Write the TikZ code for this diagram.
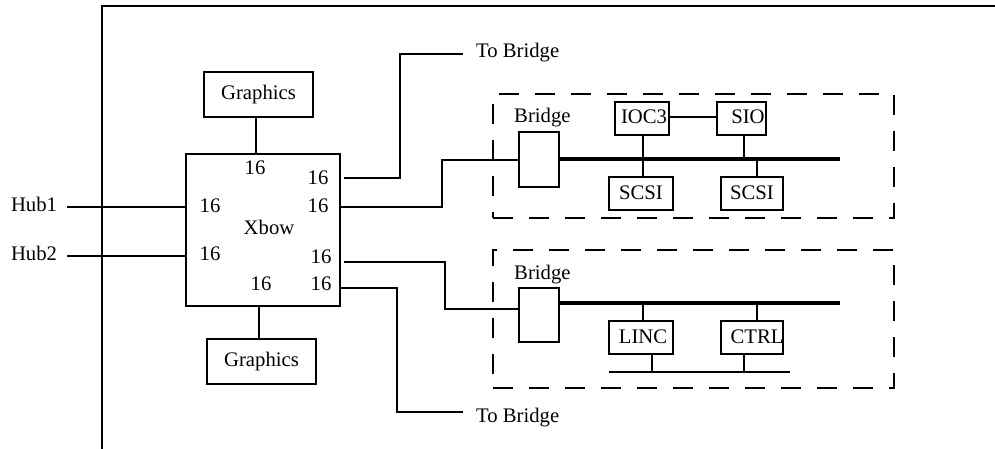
\documentclass[tikz,border=0pt]{standalone}
\usepackage{fontspec}
\setmainfont{Liberation Serif}
\begin{document}
\begin{tikzpicture}[x=1pt,y=-1pt,
  every node/.style={font=\fontsize{20.7}{24}\selectfont},
  ln/.style={line width=1.1pt},
  box/.style={draw, line width=1.1pt, inner sep=0pt},
  txt/.style={inner sep=0pt},
  grp/.style={draw, line width=1.1pt, dash pattern=on 20pt off 16pt, inner sep=0pt},
  bus/.style={line width=4pt}]
\useasboundingbox (0,0) rectangle (995,449);
% outer frame
\coordinate (fb) at (102,449);
\coordinate (ft) at (102,6);
\coordinate (fr) at (995,6);
\draw[ln] (fb) -- (ft) -- (fr);
% Xbow
\node[box, minimum width=154pt, minimum height=152pt] (xbow) at (263,230) {};
\node[txt] (xl) at (269,227) {Xbow};
\node[txt] (p1) at (255,168) {16};
\node[txt] (p2) at (318,178) {16};
\node[txt] (p3) at (318,206) {16};
\node[txt] (p4) at (210,206) {16};
\node[txt] (p5) at (210,254) {16};
\node[txt] (p6) at (321,257) {16};
\node[txt] (p7) at (261,284) {16};
\node[txt] (p8) at (321,284) {16};
% Graphics
\node[box, minimum width=109pt, minimum height=45pt] (g1) at (258.5,94.5) {Graphics};
\node[box, minimum width=109pt, minimum height=45pt] (g2) at (261.5,361.5) {Graphics};
\draw[ln] ([xshift=-2.5pt]g1.south) -- ([xshift=-2.5pt]g1.south |- xbow.north);
\draw[ln] ([xshift=-2.5pt]g2.north) -- ([xshift=-2.5pt]g2.north |- xbow.south);
% Hubs
\node[txt] (hub1) at (34,204) {Hub1};
\node[txt] (hub2) at (34,253) {Hub2};
\coordinate (h1) at (67,207);
\coordinate (h2) at (67,256);
\draw[ln] (h1) -- (h1 -| xbow.west);
\draw[ln] (h2) -- (h2 -| xbow.west);
% To Bridge
\node[txt, anchor=base west] (tb1) at (476,58) {To Bridge};
\node[txt, anchor=base west] (tb2) at (476,422) {To Bridge};
\coordinate (t1) at (463,54);
\coordinate (t2) at (463,412);
\draw[ln] ([xshift=3pt]xbow.east |- t1 |- 0,178) -| (400,54) -- (t1);
\draw[ln] ([xshift=0pt]xbow.east |- 0,288) -| (397,412) -- (t2);
% group 1
\node[grp, minimum width=401pt, minimum height=124pt] (grp1) at (693.5,156) {};
\node[txt, anchor=base west] (bl1) at (514,123) {Bridge};
\node[box, minimum width=40pt, minimum height=55pt] (br1) at (539,159.5) {};
\coordinate (bus1) at (840,159);
\draw[bus] (br1.east |- bus1) -- (bus1);
\draw[ln] (xbow.east |- 0,207) -| (442,160) -- (br1.west |- 0,160);
\node[box, minimum width=54pt, minimum height=33pt] (ioc3) at (642,118.5) {};
\node[txt] (ioc3t) at (644,117) {IOC3};
\node[box, minimum width=49pt, minimum height=33pt] (sio) at (741.5,118.5) {};
\node[txt] (siot) at (748,117) {SIO};
\node[box, minimum width=64pt, minimum height=33pt] (scsi1) at (641,193.5) {};
\node[txt] (scsi1t) at (641,193) {SCSI};
\node[box, minimum width=62pt, minimum height=33pt] (scsi2) at (752,193.5) {};
\node[txt] (scsi2t) at (752,193) {SCSI};
\draw[ln] (ioc3.east |- 0,117) -- (sio.west |- 0,117);
\draw[ln] (ioc3.south -| 643,0) -- (scsi1.north -| 643,0);
\draw[ln] (sio.south -| 744,0) -- (bus1 -| 744,0);
\draw[ln] (bus1 -| 757,0) -- (scsi2.north -| 757,0);
% group 2
\node[grp, minimum width=401pt, minimum height=138pt] (grp2) at (693.5,319) {};
\node[txt, anchor=base west] (bl2) at (514,279) {Bridge};
\node[box, minimum width=40pt, minimum height=54pt] (br2) at (539,315) {};
\coordinate (bus2) at (840,303);
\draw[bus] (br2.east |- bus2) -- (bus2);
\draw[ln] ([xshift=3pt]xbow.east |- 0,262) -| (445,309) -- ([xshift=2pt]br2.west |- 0,309);
\node[box, minimum width=64pt, minimum height=33pt] (linc) at (641,337.5) {};
\node[txt] (linct) at (643,337) {LINC};
\node[box, minimum width=62pt, minimum height=33pt] (ctrl) at (752,337.5) {};
\node[txt] (ctrlt) at (757,337) {CTRL};
\coordinate (lb1) at (609,372);
\coordinate (lb2) at (790,372);
\draw[ln] (lb1) -- (lb2);
\draw[ln] (bus2 -| 643,0) -- (linc.north -| 643,0);
\draw[ln] (bus2 -| 757,0) -- (ctrl.north -| 757,0);
\draw[ln] (linc.south -| 652,0) -- (lb1 -| 652,0);
\draw[ln] (ctrl.south -| 744,0) -- (lb1 -| 744,0);
\end{tikzpicture}
\end{document}
